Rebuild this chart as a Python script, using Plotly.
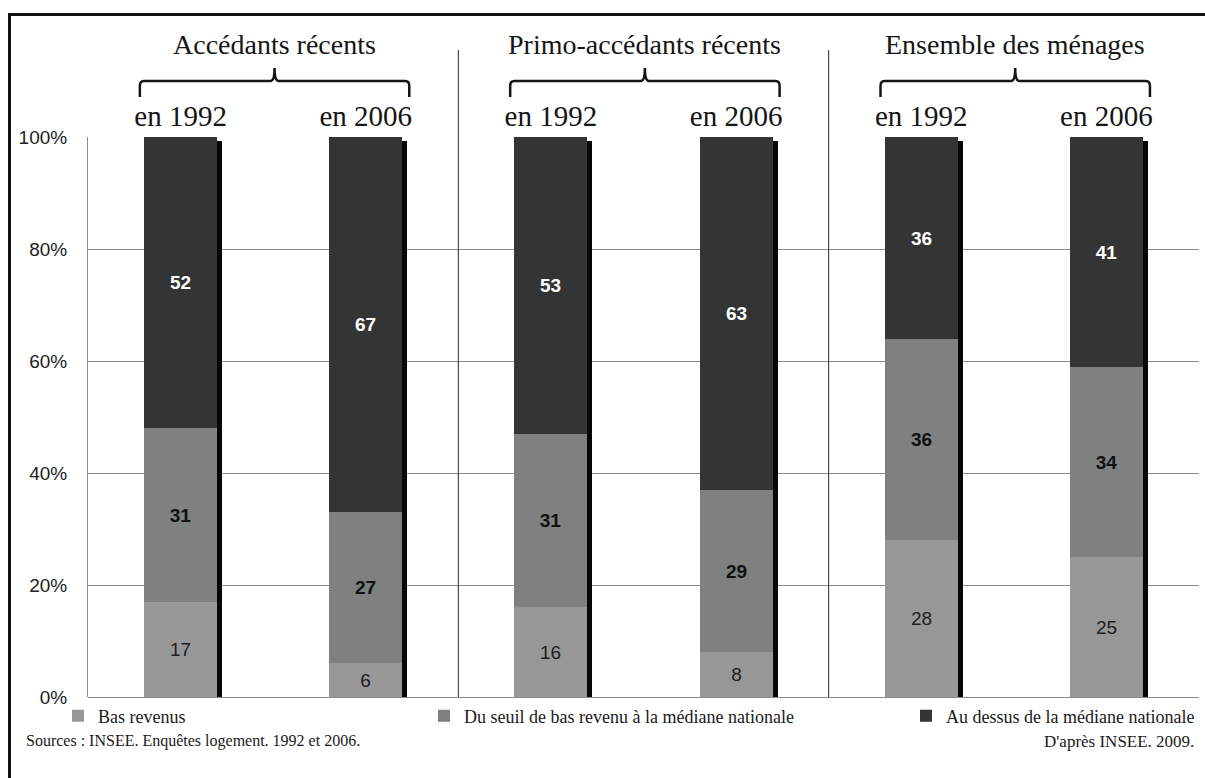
import plotly.graph_objects as go

# ---- data -------------------------------------------------------------
year_labels = ["en 1992", "en 2006", "en 1992", "en 2006", "en 1992", "en 2006"]
group_titles = ["Accédants récents", "Primo-accédants récents", "Ensemble des ménages"]
series_names = [
    "Bas revenus",
    "Du seuil de bas revenu à la médiane nationale",
    "Au dessus de la médiane nationale",
]
bas_revenus = [17, 6, 16, 8, 28, 25]
seuil_mediane = [31, 27, 31, 29, 36, 34]
au_dessus = [52, 67, 53, 63, 36, 41]
y_tick_values = [0, 20, 40, 60, 80, 100]
y_tick_text = ["0%", "20%", "40%", "60%", "80%", "100%"]
source_text = "Sources : INSEE. Enquêtes logement. 1992 et 2006."
credit_text = "D'après INSEE. 2009."

# ---- styling ----------------------------------------------------------
W, H = 1205, 778
ML, MR, MT, MB = 88, 6, 137, 81
PW, PH = W - ML - MR, H - MT - MB
N = len(year_labels)
BAR_W = 0.394
SHADOW_DX = 5 / (PW / N)          # shadow offset, in category units
SHADOW_DY = 4 / (PH / 100)        # shadow drop, in value units
SERIF = "Liberation Serif, Times New Roman, serif"
SANS = "Liberation Sans, Arial, sans-serif"
colors = ["#979797", "#7e8180", "#333535"]
shadow_color = "#060808"


def px_x(px):
    return (px - ML) / PW


def px_y(py):
    return (H - MB - py) / PH


def cat_to_paper(c):
    return (c + 0.5) / N


x = list(range(N))
totals = [a + b + c for a, b, c in zip(bas_revenus, seuil_mediane, au_dessus)]
base_mid = bas_revenus
base_top = [a + b for a, b in zip(bas_revenus, seuil_mediane)]

fig = go.Figure()

# drop shadow to the right of each column
fig.add_trace(go.Bar(
    x=[v + SHADOW_DX for v in x], y=[t - SHADOW_DY for t in totals], base=0,
    width=BAR_W, marker=dict(color=shadow_color, line=dict(width=0)),
    showlegend=False, hoverinfo="skip",
))

LABEL_SIZE = 19
segments = [
    (bas_revenus, [0] * N, dict(color="#1e1e1e", size=LABEL_SIZE, family=SANS), "%{y}", "legend"),
    (seuil_mediane, base_mid, dict(color="#111111", size=LABEL_SIZE, family=SANS), "<b>%{y}</b>", "legend2"),
    (au_dessus, base_top, dict(color="#ffffff", size=LABEL_SIZE, family=SANS), "<b>%{y}</b>", "legend3"),
]
for name, color, (vals, base, tfont, tmpl, leg) in zip(series_names, colors, segments):
    fig.add_trace(go.Bar(
        x=x, y=vals, base=base, name=name, width=BAR_W,
        marker=dict(color=color, line=dict(width=0)),
        texttemplate=tmpl, textposition="inside", insidetextanchor="middle",
        textangle=0, textfont=tfont, constraintext="none",
        legend=leg,
    ))

shapes = []
# group separators
for c in (1.5, 3.5):
    shapes.append(dict(type="line", xref="paper", yref="paper",
                       x0=cat_to_paper(c), x1=cat_to_paper(c),
                       y0=0, y1=px_y(50), line=dict(color="#2a2a2a", width=1)))
# outer frame (left and top edges)
shapes.append(dict(type="line", xref="paper", yref="paper",
                   x0=px_x(9.5), x1=px_x(9.5), y0=px_y(13), y1=px_y(H + 2),
                   line=dict(color="#111111", width=3)))
shapes.append(dict(type="line", xref="paper", yref="paper",
                   x0=px_x(8), x1=px_x(W + 2), y0=px_y(14.5), y1=px_y(14.5),
                   line=dict(color="#111111", width=3)))

annotations = []
# group headers with braces
for g, title in enumerate(group_titles):
    c0, c1 = 2 * g, 2 * g + 1
    xl, xr = cat_to_paper(c0 - 0.22), cat_to_paper(c1 + 0.235)
    xm = (xl + xr) / 2
    yb, yh, yp = px_y(97), px_y(81), px_y(68)
    dx = 4 / PW
    dy = 5 / PH
    path = (f"M {xl},{yb} L {xl},{yh - dy} Q {xl},{yh} {xl + dx},{yh} "
            f"L {xm - dx},{yh} Q {xm},{yh} {xm},{yp} "
            f"Q {xm},{yh} {xm + dx},{yh} L {xr - dx},{yh} "
            f"Q {xr},{yh} {xr},{yh - dy} L {xr},{yb}")
    shapes.append(dict(type="path", xref="paper", yref="paper", path=path,
                       line=dict(color="#151515", width=2.5)))
    annotations.append(dict(text=title, xref="paper", yref="paper",
                            x=xm, y=px_y(45), showarrow=False,
                            xanchor="center", yanchor="middle",
                            font=dict(family=SERIF, size=28, color="#151515")))

annotations.append(dict(text=source_text, xref="paper", yref="paper",
                        x=px_x(24), y=px_y(741), showarrow=False,
                        xanchor="left", yanchor="middle",
                        font=dict(family=SERIF, size=16, color="#1a1a1a")))
annotations.append(dict(text=credit_text, xref="paper", yref="paper",
                        x=px_x(1196), y=px_y(741), showarrow=False,
                        xanchor="right", yanchor="middle",
                        font=dict(family=SERIF, size=17, color="#1a1a1a")))

legend_font = dict(family=SERIF, size=18, color="#1a1a1a")
legend_common = dict(orientation="h", xref="paper", yref="paper",
                     xanchor="left", yanchor="middle", y=px_y(716),
                     bgcolor="rgba(0,0,0,0)", borderwidth=0, font=legend_font,
                     itemwidth=30, tracegroupgap=0)

fig.update_layout(
    width=W, height=H,
    margin=dict(l=ML, r=MR, t=MT, b=MB, pad=0, autoexpand=False),
    paper_bgcolor="white", plot_bgcolor="white",
    barmode="overlay", bargap=0,
    xaxis=dict(range=[-0.5, N - 0.5], side="top", tickmode="array",
               tickvals=x, ticktext=year_labels, ticks="", showgrid=False,
               zeroline=False, showline=False, ticklabelstandoff=4,
               tickfont=dict(family=SERIF, size=29, color="#151515"),
               fixedrange=True),
    yaxis=dict(range=[0, 100], tickmode="array", tickvals=y_tick_values,
               ticktext=y_tick_text, ticks="", showgrid=True,
               gridcolor="#8c8c8c", gridwidth=1, zeroline=True,
               zerolinecolor="#8c8c8c", zerolinewidth=1,
               showline=True, linecolor="#8c8c8c", linewidth=1,
               ticklabelstandoff=16,
               tickfont=dict(family=SANS, size=19, color="#222222"),
               fixedrange=True),
    legend=dict(legend_common, x=px_x(58)),
    legend2=dict(legend_common, x=px_x(424)),
    legend3=dict(legend_common, x=px_x(906)),
    shapes=shapes,
    annotations=annotations,
    showlegend=True,
)

fig.write_html("out.html")
